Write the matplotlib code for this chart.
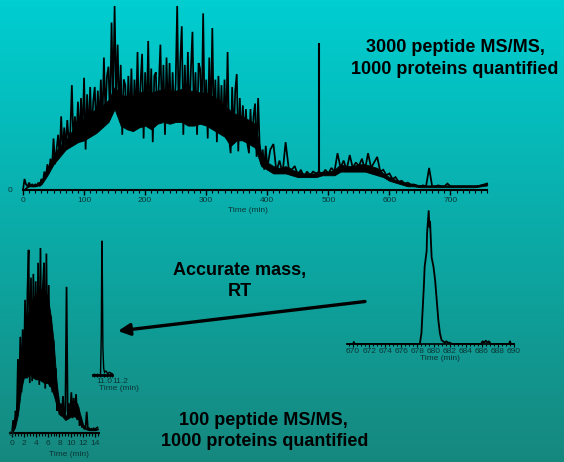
import numpy as np
import matplotlib
matplotlib.use("Agg")
import matplotlib.pyplot as plt
from matplotlib.ticker import MultipleLocator, FixedLocator, NullFormatter

plt.rcParams['font.family'] = ['Liberation Sans', 'DejaVu Sans']

# ---------------- data ----------------
# Large run, total ion trace
# 0-397.5 min sampled every 2.5 min
top_t_a = np.arange(0, 400, 2.5)
top_v_a = [0, 6, 3, 2,      4, 2, 3, 2,      3, 2, 4, 2,      6, 4, 10, 7,
           14, 9, 17, 12,   28, 14, 22, 30,  18, 40, 20, 34,  23, 38, 26, 32,
           57, 25, 40, 28,  48, 27, 50, 30,  61, 22, 52, 30,  56, 31, 48, 56,
           32, 54, 36, 60,  35, 72, 40, 62,  67, 38, 91, 48,  100, 50, 79, 40,
           68, 30, 60, 57,  34, 62, 36, 66,  33, 60, 38, 75,  35, 58, 74, 28,
           64, 37, 81, 35,  66, 26, 62, 64,  36, 58, 79, 38,  68, 30, 72, 40,
           69, 36, 64, 40,  58, 100, 38, 70, 89, 30, 68, 38,  75, 37, 66, 86,
           36, 64, 30, 69,  66, 38, 96, 36,  60, 28, 72, 36,  88, 34, 60, 26,
           62, 32, 57, 30,  60, 30, 75, 28,  20, 56, 28, 54,  63, 21, 50, 27,
           46, 26, 44, 25,  20, 44, 24, 40,  47, 18, 50, 24,  14, 22, 11, 24]
# 400-760 min sampled every 5 min
top_t_b = np.arange(400, 761, 5)
top_v_b = [12, 22, 25, 10, 16, 9, 26, 12, 11, 13, 8, 11, 7, 10, 8, 10, 9,
           10, 8, 11, 9, 12, 10, 20, 12, 16, 11, 19, 12, 15, 13, 17, 11,
           20, 12, 15, 18, 10, 11, 8, 9,
           6, 7, 4.5, 5, 3.5, 4, 3, 3, 2.5, 2, 2.5, 2, 12, 2, 2, 2.5,
           2, 2, 3.5, 2, 2, 2, 2, 2, 2, 2, 2, 2, 2, 2.5, 3, 3.5]
# dense core of the trace (every 10 min): lower / upper
core_t = np.arange(0, 761, 10)
core_lo = [0, 2, 2, 3, 8, 14, 18, 22, 24, 26,
           27, 29, 31, 34, 37, 44, 35, 33, 32, 34,
           35, 33, 36, 37, 36, 37, 37, 35, 35, 36,
           35, 33, 31, 29, 24, 27, 27, 25, 23, 13,
           11, 9, 9, 9, 8, 7, 7, 7, 7, 8,
           8, 8, 10, 10, 10, 10, 10, 9, 8, 7,
           5, 4, 3, 2, 2, 1.5, 1.5, 1.5, 1.5, 1.5,
           1.5, 1.5, 1.5, 1.5, 1.5, 2, 2.5]
core_hi = [0, 3, 3, 5, 12, 19, 24, 27, 32, 36,
           39, 42, 44, 46, 49, 56, 52, 51, 51, 53,
           54, 53, 54, 55, 54, 54, 55, 54, 54, 53,
           53, 51, 49, 46, 43, 41, 40, 38, 36, 20,
           15, 13, 12, 13, 11, 10, 9, 9, 9, 10,
           10, 11, 14, 13, 13, 14, 14, 13, 12, 9,
           7, 5.5, 4.5, 3.5, 3, 2.5, 2.5, 2.5, 2.5, 2.5,
           2.5, 2.5, 2.5, 2.5, 2.5, 3, 3.5]
# isolated needle near 485 min: time, tip, base
needle_t = [485]
needle_v = [80]
needle_b = [9]

# Short run trace, sampled every 0.2 min
bl_t = np.arange(0, 14.41, 0.2)
bl_v = [0, 7, 3, 12, 8, 40, 20, 52, 22, 56,
        30, 72, 32, 76, 99, 27, 84, 28, 86, 32,
        82, 30, 92, 26, 100, 29, 79, 92, 24, 97,
        27, 80, 25, 63, 22, 50, 20, 35, 12, 20,
        10, 16, 9, 20, 8, 12, 79, 8, 16, 9,
        22, 8, 19, 9, 21, 7, 14, 4, 8, 3,
        4, 2, 3, 11.5, 2, 2.5, 1.5, 2.5, 1.5, 2.5,
        2, 2.5, 3]
# dense core of the short run (every 0.5 min)
blc_t = np.arange(0, 14.6, 0.5)
blc_lo = [0, 3, 10, 23, 30, 30, 32, 30, 29, 29,
          28, 27, 27, 25, 21, 15, 10, 9, 7, 8,
          9, 9, 8, 7, 3, 2, 1.5, 1.5, 1.5, 2]
blc_hi = [0, 8, 22, 44, 56, 63, 68, 72, 75, 78,
          78, 77, 74, 64, 50, 28, 14, 14, 9, 11,
          17, 17, 16, 10, 4.5, 2.5, 2, 2, 2, 2.5]

# Extracted ion chromatogram, large run (670-690 min)
br_t = [669.3, 670.0, 670.1, 670.2, 678.3, 678.5, 678.8, 678.9, 679.15, 679.2,
        679.4, 679.5, 679.57, 679.77, 680.0, 680.2, 680.4, 680.6, 680.8, 681.0,
        681.2, 681.4, 681.6, 681.8, 682.0, 682.3, 685.9, 686.1, 686.3, 686.5,
        686.7, 686.9, 687.1, 689.4, 689.5, 689.6, 690.0]
br_v = [0, 0, 1.5, 0, 0, 8, 43, 58, 70, 83,
        100, 88, 92, 65, 58, 48, 33, 18, 8, 3,
        2, 1, 2, 1, 1, 0, 0, 2, 1, 2.5,
        1, 2, 0, 0, 2, 0, 0]

# Extracted ion chromatogram, short run
mid_t = [10.856, 10.95, 10.96, 10.965, 10.97, 10.975, 10.98, 10.99, 11.0,
         11.02, 11.04, 11.06, 11.094]
mid_v = [0, 0, 30, 80, 100, 60, 20, 5, 2, 3, 1, 2, 1]

top_ticks = [0, 100, 200, 300, 400, 500, 600, 700]
bl_ticks = [0, 2, 4, 6, 8, 10, 12, 14]
br_ticks = [670, 672, 674, 676, 678, 680, 682, 684, 686, 688, 690]
mid_ticks = [11.0, 11.2]

# ---------------- figure ----------------
W, H, DPI = 564, 462, 100
fig = plt.figure(figsize=(W / DPI, H / DPI), dpi=DPI)

bg = fig.add_axes([0, 0, 1, 1], zorder=0)
g = np.linspace(0, 1, 256)[:, None, None]
c_top = np.array([0, 206, 209]) / 255.0
c_bot = np.array([22, 136, 126]) / 255.0
img = c_top * (1 - g) + c_bot * g
img = np.repeat(img, 2, axis=1)
bg.imshow(img, aspect='auto', extent=[0, W, H, 0], origin='upper')
bg.set_xlim(0, W)
bg.set_ylim(H, 0)
bg.axis('off')

TXT = '#0b3535'
LBL = 6.0


def make_ax(x0, x1, ybase, ytop, xlim, ylim=(0, 100)):
    ax = fig.add_axes([x0 / W, 1 - ybase / H, (x1 - x0) / W, (ybase - ytop) / H], zorder=2)
    ax.set_xlim(*xlim)
    ax.set_ylim(*ylim)
    ax.patch.set_alpha(0)
    for s in ['top', 'right', 'left']:
        ax.spines[s].set_visible(False)
    ax.spines['bottom'].set_linewidth(1.5)
    ax.set_yticks([])
    return ax


# top chart
ax1 = make_ax(23, 23 + 760 * 0.6107, 190, 6, (0, 760))
ax1.fill_between(core_t, core_lo, core_hi, facecolor='black', edgecolor='black',
                 lw=0.6, clip_on=False)
t_all = np.concatenate([top_t_a, top_t_b])
v_all = np.concatenate([np.asarray(top_v_a, float), np.asarray(top_v_b, float)])
ax1.plot(t_all, v_all, color='black', lw=1.25, clip_on=False, solid_joinstyle='miter')
ax1.vlines(needle_t, needle_b, needle_v, color='black', lw=1.5, clip_on=False)
ax1.xaxis.set_major_locator(FixedLocator(top_ticks))
ax1.xaxis.set_minor_locator(MultipleLocator(10))
ax1.tick_params(axis='x', which='major', length=3.5, width=1.0, pad=1.6,
                labelsize=LBL, labelcolor=TXT, color='black', direction='out')
ax1.tick_params(axis='x', which='minor', length=2.0, width=0.8, color='black', direction='out')

# bottom-left chart
s_bl = 5.93
ax2 = make_ax(12 - 0.3 * s_bl, 12 + 14.6 * s_bl, 433, 248, (-0.3, 14.6))
ax2.fill_between(blc_t, blc_lo, blc_hi, facecolor='black', edgecolor='black',
                 lw=0.6, clip_on=False)
ax2.plot(bl_t, bl_v, color='black', lw=1.25, clip_on=False, solid_joinstyle='miter')
ax2.xaxis.set_major_locator(FixedLocator(bl_ticks))
ax2.xaxis.set_minor_locator(MultipleLocator(0.5))
ax2.tick_params(axis='x', which='major', length=3.0, width=0.9, pad=2.2,
                labelsize=LBL, labelcolor=TXT, color='black', direction='out')
ax2.tick_params(axis='x', which='minor', length=2.0, width=0.8, color='black', direction='out')

# bottom-right chart
s_br = 8.05
ax3 = make_ax(353 - 0.75 * s_br, 353 + 20 * s_br, 344, 211, (669.25, 690))
ax3.plot(br_t, br_v, color='black', lw=1.3, clip_on=False)
ax3.xaxis.set_major_locator(FixedLocator(br_ticks))
ax3.xaxis.set_minor_locator(MultipleLocator(0.5))
ax3.tick_params(axis='x', which='major', length=1.8, width=0.8, pad=0.8,
                labelsize=LBL, labelcolor=TXT, color='black', direction='out')
ax3.tick_params(axis='x', which='minor', length=1.5, width=0.7, color='black', direction='out')
ax3.spines['bottom'].set_linewidth(1.2)

# middle small chart
s_m = 80.0
ax4 = make_ax(104.5 - 0.15 * s_m, 104.5 + 0.26 * s_m, 375, 241, (10.85, 11.26))
ax4.spines['bottom'].set_bounds(10.856, 11.094)
ax4.spines['bottom'].set_linewidth(2.0)
ax4.plot(mid_t, mid_v, color='black', lw=1.0, clip_on=False)
ax4.xaxis.set_major_locator(FixedLocator(mid_ticks))
ax4.xaxis.set_minor_locator(FixedLocator([10.87, 10.91, 10.95, 10.99, 11.03, 11.07, 11.09]))
ax4.xaxis.set_minor_formatter(NullFormatter())
ax4.tick_params(axis='x', which='major', length=0, pad=2.4,
                labelsize=LBL, labelcolor=TXT)
ax4.tick_params(axis='x', which='minor', length=2.5, width=0.8, color='black', direction='inout')

# ---------------- overlay text & arrow ----------------
ov = fig.add_axes([0, 0, 1, 1], zorder=3)
ov.set_xlim(0, W)
ov.set_ylim(H, 0)
ov.axis('off')

ov.text(12.5, 190.5, '0', fontsize=LBL, color=TXT, ha='right', va='center')
ov.text(13, 434, '0', fontsize=LBL, color=TXT, ha='right', va='center')
ov.text(248, 211, 'Time (min)', fontsize=LBL, color=TXT, ha='center', va='center')
ov.text(68.5, 454, 'Time (min)', fontsize=LBL, color=TXT, ha='center', va='center')
ov.text(440, 358.5, 'Time (min)', fontsize=LBL, color=TXT, ha='center', va='center')
ov.text(119, 389, 'Time (min)', fontsize=LBL, color=TXT, ha='center', va='center')

BIG = dict(fontsize=13, fontweight='bold', color='black', ha='center', va='baseline')
ov.text(455, 51.5, '3000 peptide MS/MS,', **BIG)
ov.text(455, 73.5, '1000 proteins quantified', **BIG)
ov.text(240, 275, 'Accurate mass,', **BIG)
ov.text(240, 296, 'RT', **BIG)
ov.text(263, 425, '100 peptide MS/MS,', **BIG)
ov.text(265, 446, '1000 proteins quantified', **BIG)

ov.annotate('', xy=(118, 331), xytext=(365, 301.5),
            arrowprops=dict(arrowstyle='-|>,head_length=0.7,head_width=0.35',
                            color='black', lw=2.4, shrinkA=0, shrinkB=0,
                            mutation_scale=10))

fig.savefig('out.png', dpi=DPI)
